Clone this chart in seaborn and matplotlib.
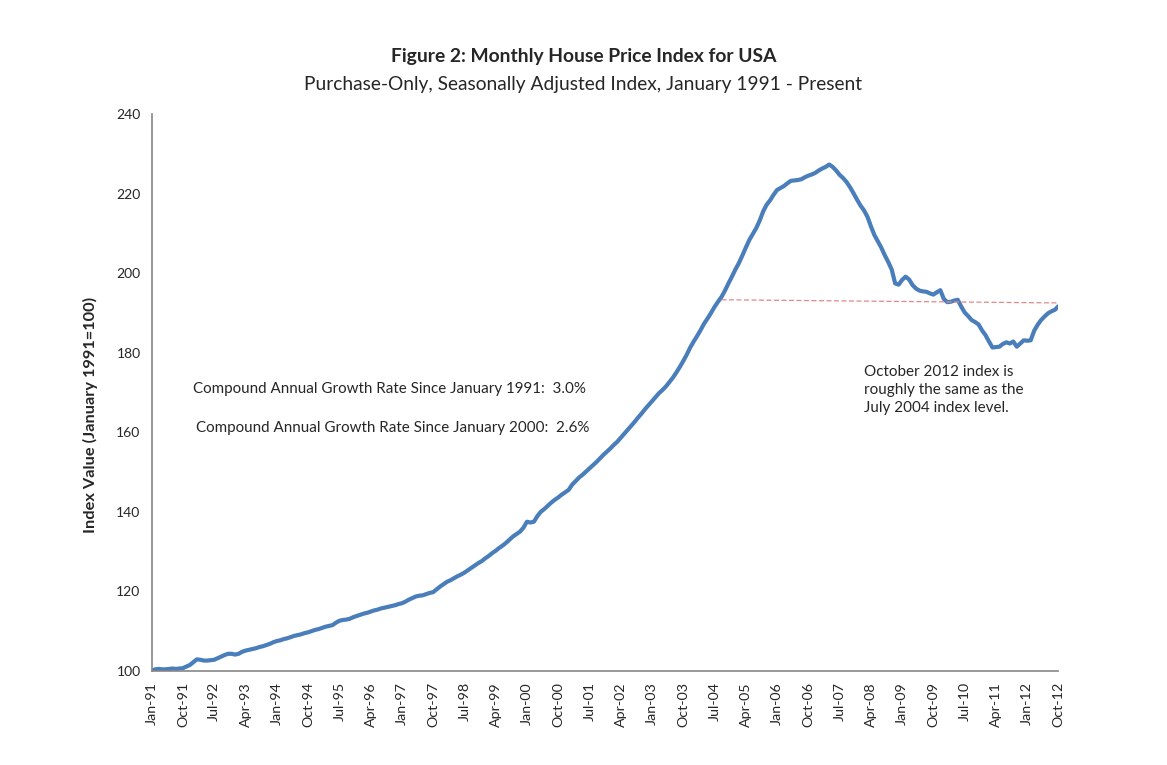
import pandas as pd
import matplotlib.pyplot as plt
import seaborn as sns

# Monthly purchase-only HPI, SA (Jan 1991 = 100)
hpi_1991 = [100.0, 100.4, 100.5, 100.4, 100.4, 100.5, 100.6, 100.5, 100.6, 100.7, 101.1, 101.5]
hpi_1992 = [102.2, 102.9, 102.8, 102.6, 102.6, 102.7, 102.8, 103.2, 103.6, 104.0, 104.3, 104.3]
hpi_1993 = [104.1, 104.3, 104.8, 105.1, 105.3, 105.5, 105.7, 106.0, 106.2, 106.5, 106.8, 107.2]
hpi_1994 = [107.5, 107.7, 108.0, 108.2, 108.5, 108.8, 109.0, 109.2, 109.5, 109.7, 110.0, 110.3]
hpi_1995 = [110.5, 110.8, 111.1, 111.3, 111.5, 112.1, 112.6, 112.8, 112.9, 113.1, 113.5, 113.8]
hpi_1996 = [114.1, 114.4, 114.6, 114.9, 115.2, 115.4, 115.7, 115.9, 116.1, 116.3, 116.5, 116.8]
hpi_1997 = [117.0, 117.4, 117.9, 118.3, 118.7, 118.9, 119.0, 119.3, 119.6, 119.8, 120.5, 121.2]
hpi_1998 = [121.8, 122.4, 122.8, 123.3, 123.8, 124.2, 124.7, 125.3, 125.9, 126.5, 127.1, 127.6]
hpi_1999 = [128.3, 128.9, 129.6, 130.2, 130.9, 131.5, 132.2, 133.0, 133.8, 134.4, 135.0, 136.0]
hpi_2000 = [137.5, 137.3, 137.5, 138.9, 140.0, 140.7, 141.5, 142.3, 143.0, 143.6, 144.3, 144.9]
hpi_2001 = [145.5, 146.8, 147.7, 148.6, 149.3, 150.1, 150.9, 151.7, 152.5, 153.4, 154.3, 155.1]
hpi_2002 = [155.9, 156.8, 157.6, 158.6, 159.6, 160.6, 161.6, 162.6, 163.7, 164.7, 165.8, 166.8]
hpi_2003 = [167.8, 168.8, 169.8, 170.6, 171.5, 172.6, 173.7, 175.0, 176.4, 177.9, 179.5, 181.3]
hpi_2004 = [182.8, 184.2, 185.7, 187.3, 188.6, 190.0, 191.5, 192.8, 194.0, 195.6, 197.4, 199.1]
hpi_2005 = [200.9, 202.5, 204.4, 206.4, 208.3, 209.8, 211.3, 213.2, 215.5, 217.2, 218.3, 219.7]
hpi_2006 = [220.9, 221.4, 221.9, 222.6, 223.2, 223.3, 223.4, 223.6, 224.1, 224.5, 224.8, 225.2]
hpi_2007 = [225.8, 226.3, 226.7, 227.3, 226.7, 225.8, 224.7, 223.9, 222.9, 221.6, 220.1, 218.5]
hpi_2008 = [217.0, 215.8, 214.2, 211.8, 209.6, 208.0, 206.4, 204.5, 202.8, 200.9, 197.4, 197.1]
hpi_2009 = [198.3, 199.1, 198.4, 197.0, 196.1, 195.6, 195.4, 195.3, 194.9, 194.6, 195.2, 195.7]
hpi_2010 = [193.5, 192.7, 192.8, 193.1, 193.3, 191.6, 190.1, 189.2, 188.2, 187.7, 187.1, 185.6]
hpi_2011 = [184.4, 182.8, 181.3, 181.4, 181.5, 182.2, 182.6, 182.3, 182.8, 181.5, 182.3, 183.1]
hpi_2012 = [183.0, 183.1, 185.5, 187.0, 188.2, 189.1, 189.9, 190.4, 190.8, 191.7]

hpi = (hpi_1991 + hpi_1992 + hpi_1993 + hpi_1994 + hpi_1995 + hpi_1996 + hpi_1997
       + hpi_1998 + hpi_1999 + hpi_2000 + hpi_2001 + hpi_2002 + hpi_2003 + hpi_2004
       + hpi_2005 + hpi_2006 + hpi_2007 + hpi_2008 + hpi_2009 + hpi_2010 + hpi_2011
       + hpi_2012)

months = pd.date_range('1991-01-01', periods=len(hpi), freq='MS')
df = pd.DataFrame({'month': range(len(hpi)), 'hpi': hpi})

# reference line: Jul 2004 level carried to Oct 2012
ref_x = [164, 261]
ref_y = [193.3, 192.5]

sns.set_style('white')
plt.rcParams['font.family'] = ['Lato', 'DejaVu Sans']

fig = plt.figure(figsize=(11.67, 7.65), dpi=100)
ax = fig.add_axes([0.130, 0.123, 0.777, 0.728])

sns.lineplot(data=df, x='month', y='hpi', ax=ax, color='#4A7EBB', linewidth=3.0)
ax.plot(ref_x, ref_y, color='#E08A88', linewidth=0.9, linestyle=(0, (4, 2)))

ax.set_xlim(0, len(hpi) - 1)
ax.set_ylim(100, 240)
ax.set_yticks(range(100, 241, 20))
tick_pos = list(range(0, len(hpi), 9))
ax.set_xticks(tick_pos)
ax.set_xticklabels([months[i].strftime('%b-%y') for i in tick_pos], rotation=90, fontsize=10.3)
ax.tick_params(axis='y', labelsize=10)
ax.tick_params(direction='out', length=5, width=1, color='#868686', pad=3)
ax.set_xlabel('')
ax.set_ylabel('Index Value (January 1991=100)', fontsize=11.8, fontweight='bold')
ax.yaxis.set_label_coords(-0.059, 0.4605)

for side in ['top', 'right']:
    ax.spines[side].set_visible(False)
for side in ['left', 'bottom']:
    ax.spines[side].set_color('#868686')
    ax.spines[side].set_linewidth(1.2)

fig.text(0.5, 0.926, 'Figure 2: Monthly House Price Index for USA', ha='center', va='center',
         fontsize=13.9, fontweight='bold')
fig.text(0.5, 0.890, 'Purchase-Only, Seasonally Adjusted Index, January 1991 - Present',
         ha='center', va='center', fontsize=13.8)

ax.text(11.9, 170.9, 'Compound Annual Growth Rate Since January 1991:  3.0%', va='center', fontsize=10.9)
ax.text(12.8, 161.1, 'Compound Annual Growth Rate Since January 2000:  2.6%', va='center', fontsize=10.9)
ax.text(204.9, 176.8, 'October 2012 index is\nroughly the same as the\nJuly 2004 index level.',
        va='top', fontsize=11, linespacing=1.35)

fig.savefig('out.png', dpi=100, facecolor='white')
